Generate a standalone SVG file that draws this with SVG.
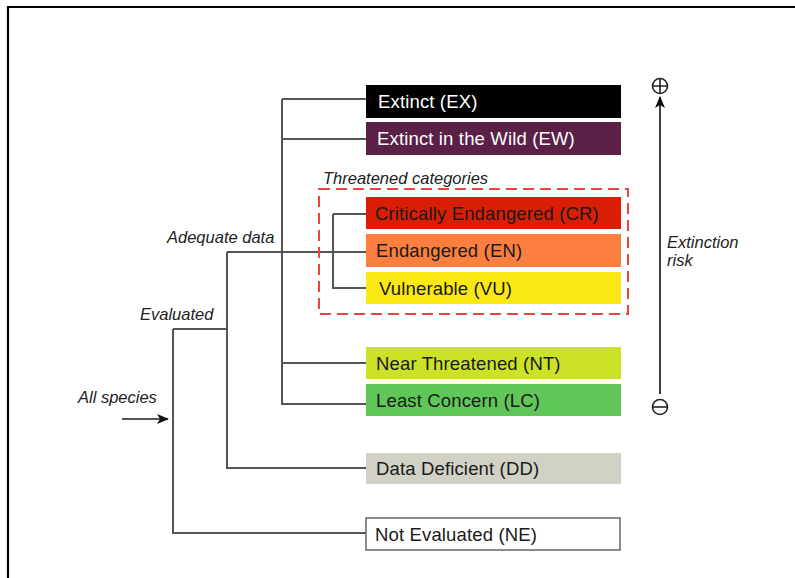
<svg xmlns="http://www.w3.org/2000/svg" width="795" height="578" viewBox="0 0 795 578">
<defs>
<marker id="ah" viewBox="0 0 12 10" refX="11" refY="5" markerWidth="12" markerHeight="10" markerUnits="userSpaceOnUse" orient="auto">
<path d="M0,0 L12,5 L0,10 L3,5 Z" fill="#111"/>
</marker>
<style>
.box{stroke:none}
.lbl{font-family:"Liberation Sans",Arial,sans-serif;font-size:18.5px;letter-spacing:0.15px;fill:#1a1a1a}
.wht{fill:#ffffff}
.it{font-family:"Liberation Sans",Arial,sans-serif;font-size:16.5px;font-style:italic;fill:#222}
.con{fill:none;stroke:#555;stroke-width:2}
</style>
</defs>
<rect width="795" height="578" fill="#fff"/>
<path d="M8 578 V7 H795" fill="none" stroke="#000" stroke-width="2.2"/>

<g id="connectors">
<path class="con" d="M122 419 H168" stroke="#111" marker-end="url(#ah)"/>
<path class="con" d="M173 329 V533 H366 M173 329 H227"/>
<path class="con" d="M227 252 V468 H366 M227 252 H366"/>
<path class="con" d="M282 99 V404 H366 M282 99 H366 M282 139 H366 M282 363 H366"/>
<path class="con" d="M333 214 V288 H366 M333 214 H366"/>
</g>

<g id="threatened">
<rect x="319" y="189" width="309" height="125" fill="none" stroke="#e8473a" stroke-width="2" stroke-dasharray="11 6"/>
<text class="it" x="323" y="184">Threatened categories</text>
</g>

<g id="EX"><rect class="box" x="366" y="85" width="255" height="33" fill="#000"/><text class="lbl wht" x="378" y="108">Extinct (EX)</text></g>
<g id="EW"><rect class="box" x="366" y="122" width="255" height="33" fill="#5b2046"/><text class="lbl wht" x="377" y="145">Extinct in the Wild (EW)</text></g>
<g id="CR"><rect class="box" x="366" y="197" width="255" height="32" fill="#d81e05"/><text class="lbl" x="375" y="220">Critically Endangered (CR)</text></g>
<g id="EN"><rect class="box" x="366" y="234" width="255" height="33" fill="#fc7f3f"/><text class="lbl" x="376" y="257">Endangered (EN)</text></g>
<g id="VU"><rect class="box" x="366" y="272" width="255" height="32" fill="#f9e814"/><text class="lbl" x="379" y="295">Vulnerable (VU)</text></g>
<g id="NT"><rect class="box" x="366" y="347" width="255" height="32" fill="#cce226"/><text class="lbl" x="376" y="370">Near Threatened (NT)</text></g>
<g id="LC"><rect class="box" x="366" y="384" width="255" height="32" fill="#60c659"/><text class="lbl" x="376" y="407">Least Concern (LC)</text></g>
<g id="DD"><rect class="box" x="366" y="453" width="255" height="31" fill="#d1d1c6"/><text class="lbl" x="376" y="475">Data Deficient (DD)</text></g>
<g id="NE"><rect x="366" y="518" width="254" height="32" fill="#fff" stroke="#666" stroke-width="1.5"/><text class="lbl" x="375" y="541">Not Evaluated (NE)</text></g>

<g id="labels">
<text class="it" x="167" y="243">Adequate data</text>
<text class="it" x="140" y="320">Evaluated</text>
<text class="it" x="78" y="403">All species</text>
</g>

<g id="risk-axis">
<path d="M660 394 V97" fill="none" stroke="#111" stroke-width="1.6" marker-end="url(#ah)"/>
<circle cx="660" cy="86" r="7.5" fill="none" stroke="#222" stroke-width="1.6"/>
<path d="M660 78.5 V93.5 M652.5 86 H667.5" stroke="#222" stroke-width="1.6"/>
<circle cx="660" cy="407" r="7.5" fill="none" stroke="#222" stroke-width="1.6"/>
<path d="M652.5 407 H667.5" stroke="#222" stroke-width="1.6"/>
<text class="it" x="667" y="248">Extinction</text>
<text class="it" x="667" y="266">risk</text>
</g>
</svg>
